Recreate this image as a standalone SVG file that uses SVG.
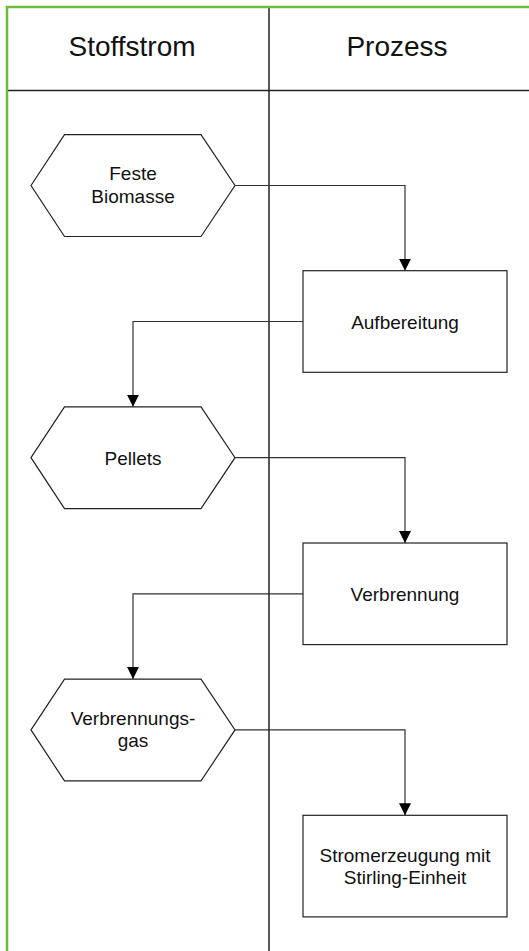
<svg xmlns="http://www.w3.org/2000/svg" width="529" height="951" viewBox="0 0 529 951">
  <style>
    .lane { fill: none; stroke: #222; stroke-width: 1.5; }
    .frame { fill: none; stroke: #6cbb3c; stroke-width: 2.5; }
    .hdr { font-family: "Liberation Sans", Arial, sans-serif; font-size: 28px; fill: #111; text-anchor: middle; }
    .shape { fill: #fff; stroke: #222; stroke-width: 1.2; }
    .lbl { font-family: "Liberation Sans", Arial, sans-serif; font-size: 19px; fill: #111; text-anchor: middle; }
    .flow { fill: none; stroke: #333; stroke-width: 1.2; marker-end: url(#arrow); }
  </style>
  <defs>
    <marker id="arrow" viewBox="0 0 12 12" refX="12" refY="6" markerWidth="12" markerHeight="12" markerUnits="userSpaceOnUse" orient="auto">
      <path d="M0,0 L12,6 L0,12 Z" fill="#000"/>
    </marker>
  </defs>

  <rect width="529" height="951" fill="#fff"/>

  <!-- swimlane frame -->
  <g id="lanes">
    <line class="lane" x1="269" y1="7" x2="269" y2="951"/>
    <line class="lane" x1="7" y1="90.5" x2="529" y2="90.5"/>
    <path class="frame" d="M7,951 V7 H529"/>
    <text class="hdr" x="132" y="56">Stoffstrom</text>
    <text class="hdr" x="397" y="56">Prozess</text>
  </g>

  <!-- connectors -->
  <g id="connectors">
    <path class="flow" d="M235,185.5 H405 V270.7"/>
    <path class="flow" d="M303,321.5 H133 V406.7"/>
    <path class="flow" d="M235,457.7 H405 V543"/>
    <path class="flow" d="M303,593.8 H133 V678.9"/>
    <path class="flow" d="M235,729.9 H405 V815.3"/>
  </g>

  <g id="feste-biomasse">
    <polygon class="shape" points="31,185.5 64.5,134.7 201,134.7 235,185.5 201,236.5 64.5,236.5"/>
    <text class="lbl" x="133" y="180">Feste</text>
    <text class="lbl" x="133" y="202.5">Biomasse</text>
  </g>

  <g id="aufbereitung">
    <rect class="shape" x="303" y="270.7" width="204" height="101.6"/>
    <text class="lbl" x="405" y="329">Aufbereitung</text>
  </g>

  <g id="pellets">
    <polygon class="shape" points="31,457.7 64.5,406.9 201,406.9 235,457.7 201,508.7 64.5,508.7"/>
    <text class="lbl" x="133" y="464.5">Pellets</text>
  </g>

  <g id="verbrennung">
    <rect class="shape" x="303" y="543" width="204" height="101.6"/>
    <text class="lbl" x="405" y="601">Verbrennung</text>
  </g>

  <g id="verbrennungsgas">
    <polygon class="shape" points="31,729.9 64.5,679.1 201,679.1 235,729.9 201,780.9 64.5,780.9"/>
    <text class="lbl" x="133" y="724.5">Verbrennungs-</text>
    <text class="lbl" x="133" y="747">gas</text>
  </g>

  <g id="stromerzeugung">
    <rect class="shape" x="303" y="815.3" width="204" height="101.6"/>
    <text class="lbl" x="405" y="861.5">Stromerzeugung mit</text>
    <text class="lbl" x="405" y="884">Stirling-Einheit</text>
  </g>
</svg>
